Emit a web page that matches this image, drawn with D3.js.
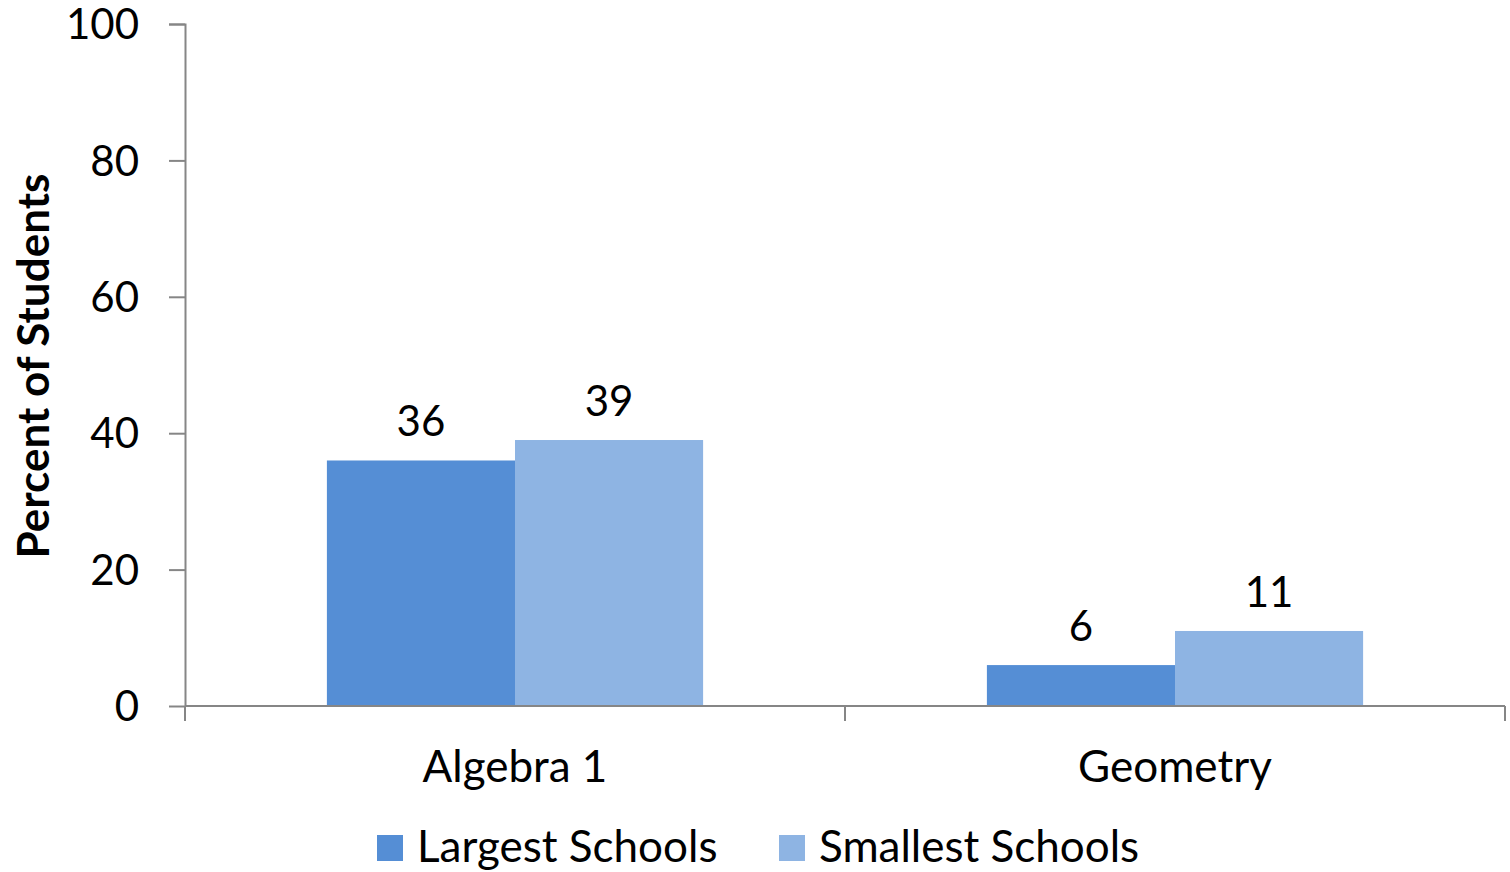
<!DOCTYPE html>
<html>
<head>
<meta charset="utf-8">
<script src="https://cdn.jsdelivr.net/npm/d3@7"></script>
<style>
  body { margin: 0; background: #fff; }
  text { font-family: Lato, "Open Sans", sans-serif; fill: #000; }
</style>
</head>
<body>
<div id="chart"></div>
<script>
// data
var subjects = ["Algebra 1", "Geometry"];
var seriesNames = ["Largest Schools", "Smallest Schools"];
var largest = [36, 6];
var smallest = [39, 11];
var yTicks = [0, 20, 40, 60, 80, 100];

var colors = ["#558ed5", "#8eb4e3"];

var W = 1510, H = 872;
var margin = {top: 24, right: 5, bottom: 166, left: 185},
    width = W - margin.left - margin.right,
    height = H - margin.top - margin.bottom;

var svg = d3.select("#chart")
  .append("svg")
    .attr("width", W)
    .attr("height", H)
  .append("g")
    .attr("transform", "translate(" + margin.left + "," + margin.top + ")");

var rows = subjects.map(function(s, i) {
    return { subject: s, values: [largest[i], smallest[i]] };
});

// scales
var x0 = d3.scaleBand()
    .domain(subjects)
    .range([0, width])
    .paddingInner(0)
    .paddingOuter(0);

var x1 = d3.scaleBand()
    .domain(seriesNames)
    .range([x0.bandwidth() * 0.215, x0.bandwidth() * 0.785]);

var y = d3.scaleLinear()
    .domain([0, 100])
    .range([height, 0]);

// Y axis
var yAxis = svg.append("g")
    .call(d3.axisLeft(y).tickValues(yTicks).tickSize(16).tickPadding(30));
yAxis.selectAll("text")
    .style("font-size", "42px")
    .style("font-family", "Lato, 'Open Sans', sans-serif")
    .attr("dy", "0.35em");

// bars
var groups = svg.selectAll(".grp")
    .data(rows)
    .enter().append("g")
    .attr("class", "grp")
    .attr("transform", function(d) { return "translate(" + x0(d.subject) + ",0)"; });

groups.selectAll("rect")
    .data(function(d) { return d.values.map(function(v, i) { return {name: seriesNames[i], value: v, i: i}; }); })
    .enter().append("rect")
    .attr("x", function(d) { return x1(d.name); })
    .attr("y", function(d) { return y(d.value); })
    .attr("width", x1.bandwidth())
    .attr("height", function(d) { return height - y(d.value); })
    .style("fill", function(d) { return colors[d.i]; });

// value labels
groups.selectAll(".val")
    .data(function(d) { return d.values.map(function(v, i) { return {name: seriesNames[i], value: v}; }); })
    .enter().append("text")
    .attr("class", "val")
    .attr("text-anchor", "middle")
    .attr("x", function(d) { return x1(d.name) + x1.bandwidth() / 2; })
    .attr("y", function(d) { return y(d.value) - 24; })
    .style("font-size", "42px")
    .text(function(d) { return d.value; });

// X axis (drawn after bars so the line sits on top)
var xAxis = svg.append("g")
    .attr("transform", "translate(0," + height + ")")
    .call(d3.axisBottom(x0).tickSize(0).tickPadding(0));
xAxis.selectAll(".tick text")
    .attr("y", 76)
    .attr("dy", 0)
    .style("font-size", "44px")
    .style("font-family", "Lato, 'Open Sans', sans-serif");
// boundary tick marks between categories
xAxis.selectAll(".bound")
    .data([0, x0.bandwidth(), width])
    .enter().append("line")
    .attr("class", "bound")
    .attr("x1", function(d) { return d; })
    .attr("x2", function(d) { return d; })
    .attr("y1", 0)
    .attr("y2", 15)
    .attr("stroke", "#868686")
    .attr("stroke-width", 2);

svg.selectAll(".domain").attr("stroke", "#868686").attr("stroke-width", 2);
yAxis.selectAll(".tick line").attr("stroke", "#868686").attr("stroke-width", 2);
yAxis.select(".domain").attr("d", "M-16,0.5H0.5V" + height);
xAxis.select(".domain").attr("d", "M0," + 0 + "H" + width);

// Y-axis label
svg.append("text")
    .attr("text-anchor", "middle")
    .attr("transform", "rotate(-90)")
    .attr("y", 49 - margin.left)
    .attr("x", -(366 - margin.top))
    .style("font-size", "44px")
    .style("font-weight", "bold")
    .text("Percent of Students");

// legend
var legend = svg.append("g")
    .attr("transform", "translate(" + (377 - margin.left) + "," + (835 - margin.top) + ")");
var legendX = [0, 402];
seriesNames.forEach(function(name, i) {
    var g = legend.append("g").attr("transform", "translate(" + legendX[i] + ",0)");
    g.append("rect")
        .attr("width", 26)
        .attr("height", 26)
        .style("fill", colors[i]);
    g.append("text")
        .attr("x", 40)
        .attr("y", 27)
        .style("font-size", "44px")
        .text(name);
});
</script>
</body>
</html>
